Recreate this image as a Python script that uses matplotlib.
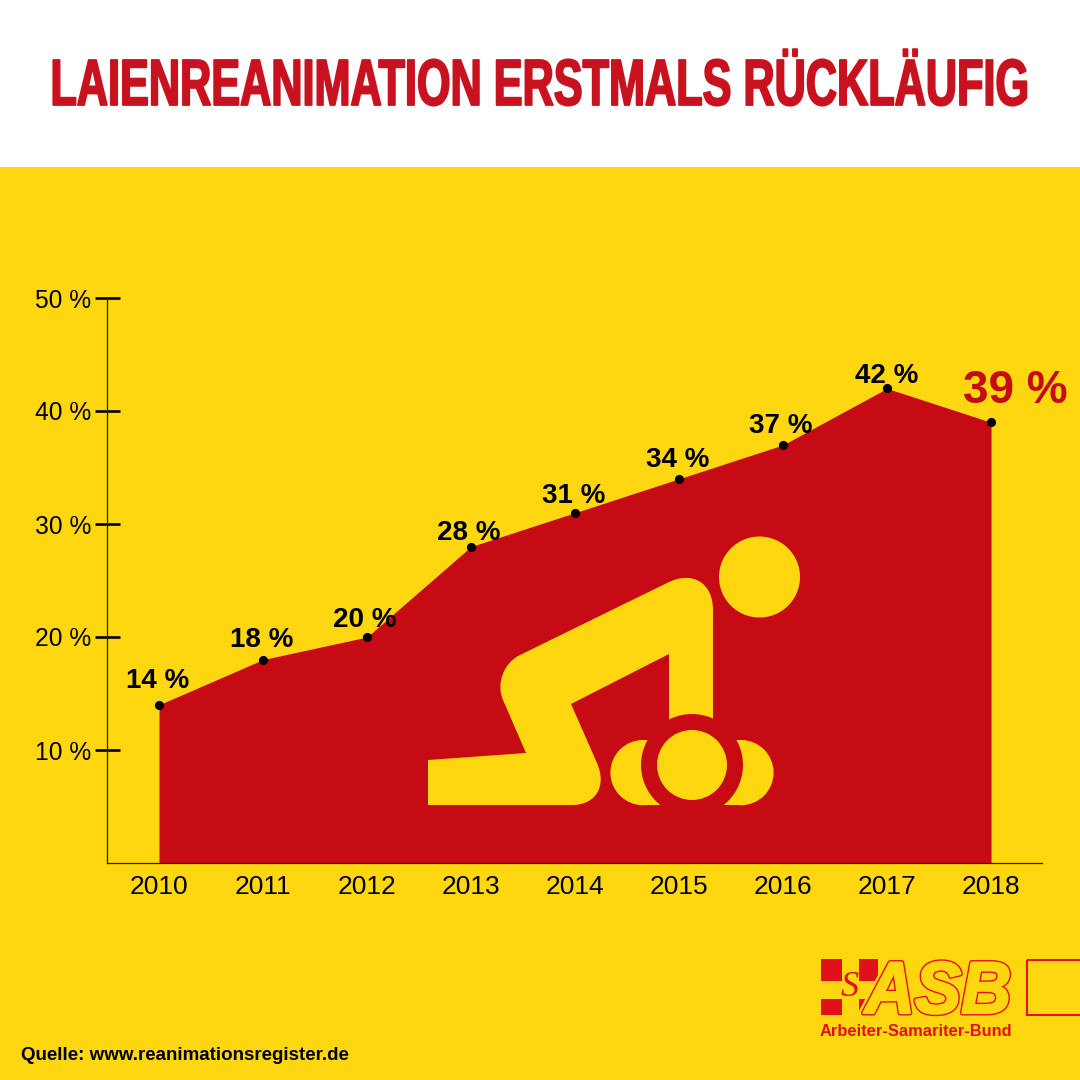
import matplotlib
matplotlib.use('Agg')
import matplotlib.pyplot as plt
import matplotlib.patheffects as pe
from matplotlib.patches import Circle, PathPatch, Rectangle
from matplotlib.path import Path
from matplotlib.transforms import Affine2D

years = [2010, 2011, 2012, 2013, 2014, 2015, 2016, 2017, 2018]
values = [14, 18, 20, 28, 31, 34, 37, 42, 39]
y_ticks = [10, 20, 30, 40, 50]
# label offset from the point in pixels, the picture places them by hand
label_dx = [-1, -1, -2, -2, -1, -1, -2, 0, 24]
label_dy = [24, 20, 17, 14, 17, 19, 19, 12, 31]

YELLOW = '#FFD711'
RED = '#C60B14'
TITLE_RED = '#C9121F'
LOGO_RED = '#E2101A'


class Reshape(pe.AbstractPathEffect):
    """Scale text about a display point, the fonts here have no condensed cut"""

    def __init__(self, sx, sy, cx, cy, strokes, dy=0):
        super().__init__()
        self.move = Affine2D().translate(-cx, -cy).scale(sx, sy).translate(cx, cy + dy)
        self.strokes = strokes

    def draw_path(self, renderer, gc, tpath, affine, rgbFace=None):
        for lw, color in self.strokes:
            gc0 = renderer.new_gc()
            gc0.copy_properties(gc)
            gc0.set_linewidth(lw)
            gc0.set_foreground(color)
            gc0.set_joinstyle('round')
            renderer.draw_path(gc0, tpath, affine + self.move, None)
            gc0.restore()
        renderer.draw_path(gc, tpath, affine + self.move, rgbFace)


plt.rcParams['font.family'] = ['Liberation Sans', 'DejaVu Sans']

fig = plt.figure(figsize=(10.8, 10.8), dpi=100, facecolor=YELLOW)

# chart axes, placed to the pixel
ax = fig.add_axes([107 / 1080, (1080 - 863) / 1080, 935 / 1080, 565 / 1080])
ax.set_facecolor('none')
ax.set_xlim(2009.5, 2018.49)
ax.set_ylim(0, 50)

ax.fill_between(years, values, 0, color=RED, linewidth=0)
ax.plot(years, values, linestyle='none', marker='o', color='black', markersize=5.6, clip_on=False)

for i in range(len(years)):
    last = i == len(years) - 1
    ax.annotate(f'{values[i]} %', (years[i], values[i]),
                xytext=(label_dx[i] * 0.72, label_dy[i] * 0.72), textcoords='offset points',
                ha='center', va='center', fontweight='bold',
                fontsize=33 if last else 20, color=RED if last else 'black',
                annotation_clip=False)

for side in ['top', 'right']:
    ax.spines[side].set_visible(False)
for side in ['left', 'bottom']:
    ax.spines[side].set_linewidth(0.9)
    ax.spines[side].set_color('#222200')

ax.set_xticks(years)
ax.set_yticks(y_ticks)
ax.set_yticklabels([f'{v} %' for v in y_ticks])
ax.tick_params(axis='x', length=0, pad=9, labelsize=19)
ax.tick_params(axis='y', direction='inout', length=18, width=1.9, pad=2.5, labelsize=17.7)

# overlay in pixel coordinates for the header, the icon and the logo
ov = fig.add_axes([0, 0, 1, 1], zorder=5)
ov.set_xlim(0, 1080)
ov.set_ylim(1080, 0)
ov.axis('off')

ov.add_patch(Rectangle((0, 0), 1080, 167, color='white', linewidth=0))
title = ov.text(540, 105, 'LAIENREANIMATION ERSTMALS RÜCKLÄUFIG', ha='center', va='baseline',
                fontsize=40, fontweight='bold', color=TITLE_RED)
width = title.get_window_extent(fig.canvas.get_renderer()).width
title_size = 40 * 978 / width
title.set_fontsize(title_size)
title.set_path_effects([Reshape(1, 45 / (0.688 * title_size * 100 / 72), 540, 1080 - 105,
                                [(1.3, TITLE_RED)])])

# person doing chest compressions
M, L, C4, Z = Path.MOVETO, Path.LINETO, Path.CURVE4, Path.CLOSEPOLY
body = [
    (428, 760, M), (526, 753, L), (503, 700, L),
    (496, 683.5, C4), (503.5, 663, C4), (520, 655, C4),
    (667, 583, L),
    (692, 570, C4), (713, 582.5, C4), (713, 610, C4),
    (713, 740, L), (669, 740, L), (669, 654, L), (571, 704, L), (597, 763, L),
    (607, 786, C4), (596, 805, C4), (572, 805, C4),
    (428, 805, L), (428, 760, Z),
]
ov.add_patch(PathPatch(Path([(p[0], p[1]) for p in body], [p[2] for p in body]),
                       facecolor=YELLOW, edgecolor='none'))
ov.add_patch(Circle((759.5, 577), 40.5, color=YELLOW, linewidth=0))
ov.add_patch(Rectangle((643, 740), 98, 65.3, color=YELLOW, linewidth=0))
ov.add_patch(Circle((643, 772.6), 32.6, color=YELLOW, linewidth=0))
ov.add_patch(Circle((741, 772.6), 32.6, color=YELLOW, linewidth=0))
ov.add_patch(Circle((692, 765), 51, color=RED, linewidth=0))
ov.add_patch(Circle((692, 765), 35, color=YELLOW, linewidth=0))

# ASB logo
ov.add_patch(Rectangle((821, 959), 57, 56, color=LOGO_RED, linewidth=0))
ov.add_patch(Rectangle((842, 959), 17, 56, color=YELLOW, linewidth=0))
ov.add_patch(Rectangle((821, 981), 57, 18, color=YELLOW, linewidth=0))
ov.text(849.5, 987, 'S', ha='center', va='center', fontsize=26, fontstyle='italic',
        color=LOGO_RED, family=['Liberation Serif', 'DejaVu Serif'])
# text sits higher and is moved down while drawing, so its box stays off the line below
ov.text(938, 1000, 'ASB', ha='center', va='baseline', fontsize=48, fontweight='bold', fontstyle='italic',
        color=YELLOW,
        path_effects=[Reshape(1.04, 1.1, 938, 1080 - 1000,
                              [(7, YELLOW), (3.6, LOGO_RED), (1.6, YELLOW)], dy=-13)])
ov.add_patch(Rectangle((1027, 959.5), 60, 55, facecolor='none', edgecolor=LOGO_RED, linewidth=1.5))
ov.text(820, 1031, 'Arbeiter-Samariter-Bund', ha='left', va='center', fontsize=11.9,
        fontweight='bold', color=LOGO_RED)

ov.text(21, 1056, 'Quelle: www.reanimationsregister.de', ha='left', va='center',
        fontsize=13.5, fontweight='bold', color='black')

fig.savefig('out.png', dpi=100, facecolor=YELLOW)
